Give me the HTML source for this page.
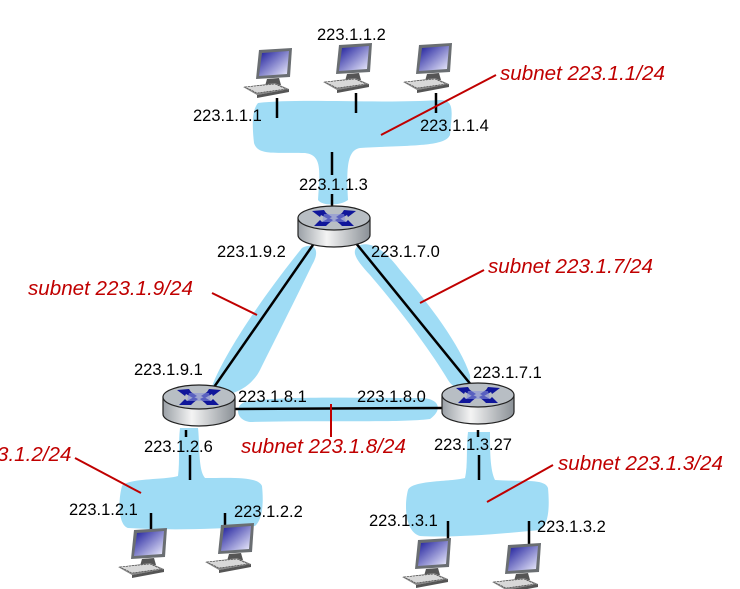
<!DOCTYPE html>
<html><head><meta charset="utf-8"><style>
html,body{margin:0;padding:0;background:#fff;}
svg{display:block;}
.t{font-family:"Liberation Sans",sans-serif;font-size:16.5px;fill:#000;}
.r{font-family:"Liberation Sans",sans-serif;font-size:20.6px;font-style:italic;fill:#c00000;}
</style></head><body>
<svg width="740" height="589" viewBox="0 0 740 589" xmlns="http://www.w3.org/2000/svg">
<defs>
<linearGradient id="scr" x1="0" y1="0" x2="1" y2="1"><stop offset="0" stop-color="#1a1a9a"/><stop offset="1" stop-color="#f0f0ff"/></linearGradient>
<linearGradient id="cyl" x1="0" y1="0" x2="1" y2="0"><stop offset="0" stop-color="#9aa0a6"/><stop offset="0.4" stop-color="#f4f4f4"/><stop offset="1" stop-color="#8a9096"/></linearGradient>
<g id="pc">
<polygon points="16,0 49,-2 47,27 13,29" fill="#6a6e72"/>
<polygon points="19,3 46,1 44,24 16,26" fill="url(#scr)"/>
<polygon points="24,29 36,28 38,35 22,36" fill="#555"/>
<polygon points="0,37 32,33 46,39 14,45" fill="#888"/>
<polygon points="2,37 32,34 43,39 14,43" fill="#d8d8d8" stroke="#444" stroke-width="0.6" stroke-dasharray="2,1"/>
<polygon points="14,45 46,39 46,42 14,48" fill="#555"/>
</g>
<g id="rt">
<path d="M-36,0 L-36,17 A36,12 0 0 0 36,17 L36,0 Z" fill="url(#cyl)" stroke="#222" stroke-width="1.2"/>
<ellipse cx="0" cy="0" rx="36" ry="12" fill="#b8bec4" stroke="#222" stroke-width="1.2"/>
<g fill="#10169a">
<polygon points="-22,-7 -10,-8 -8,-5 -2,-1 -6,1 -13,-3 -14,-1"/>
<polygon points="22,-7 10,-8 8,-5 2,-1 6,1 13,-3 14,-1"/>
<polygon points="-20,8 -8,8 -6,6 -1,2 -5,0 -12,4 -14,2"/>
<polygon points="20,8 8,8 6,6 1,2 5,0 12,4 14,2"/>
</g>
<polygon points="-10,-4 10,-4 12,4 -12,4" fill="#8a93d8" opacity="0.6"/>
</g>
</defs>
<g fill="#9fdcf5">
<path d="M258,103 C300,98 380,104 440,100 C455,100 452,112 450,135 C445,147 410,145 360,148 C348,150 346,165 348,200 C340,206 322,206 318,200 C320,170 322,155 305,153 C275,152 258,156 254,143 C252,125 252,110 258,103 Z"/>
<path d="M302,248 C312,242 322,248 312,265 C295,300 275,340 260,370 C250,390 225,400 210,392 C220,360 260,300 302,248 Z"/>
<path d="M358,246 C370,240 385,250 400,270 C430,305 460,345 470,375 C472,392 455,392 448,380 C430,350 400,310 370,275 C358,262 350,252 358,246 Z"/>
<path d="M245,402 C280,396 340,398 420,398 C440,398 443,410 430,419 C400,423 320,420 250,422 C235,420 235,405 245,402 Z"/>
<path d="M180,428 L198,428 C200,445 198,470 205,478 C230,478 258,476 262,486 C264,505 262,520 255,526 C210,530 160,530 128,528 C118,525 118,500 122,486 C128,478 165,480 178,476 C180,460 178,445 180,428 Z"/>
<path d="M468,432 L490,432 C490,450 490,470 495,480 C520,482 545,478 548,488 C550,510 548,525 540,530 C500,534 450,538 420,536 C405,532 404,505 408,490 C412,480 450,482 465,478 C468,465 466,448 468,432 Z"/>
</g>
<g stroke="#000" stroke-width="2.5" fill="none">
<line x1="277" y1="98" x2="277" y2="118"/>
<line x1="356" y1="93" x2="356" y2="113"/>
<line x1="436" y1="93" x2="436" y2="113"/>
<line x1="332" y1="152" x2="332" y2="175"/>
<line x1="332" y1="194" x2="332" y2="207"/>
<line x1="315" y1="242" x2="212" y2="390"/>
<line x1="355" y1="242" x2="472" y2="386"/>
<line x1="234" y1="409" x2="443" y2="408"/>
<line x1="186" y1="430" x2="186" y2="437"/>
<line x1="190" y1="455" x2="190" y2="480"/>
<line x1="151" y1="513" x2="151" y2="530"/>
<line x1="225" y1="513" x2="225" y2="530"/>
<line x1="478" y1="430" x2="478" y2="437"/>
<line x1="479" y1="455" x2="479" y2="480"/>
<line x1="448" y1="521" x2="448" y2="540"/>
<line x1="529" y1="521" x2="529" y2="545"/>
</g>
<use href="#pc" x="243" y="50"/>
<use href="#pc" x="323" y="45"/>
<use href="#pc" x="403" y="45"/>
<use href="#pc" x="118" y="530"/>
<use href="#pc" x="205" y="525"/>
<use href="#pc" x="402" y="540"/>
<use href="#pc" x="492" y="545"/>
<use href="#rt" x="334" y="218"/>
<use href="#rt" x="199" y="397"/>
<use href="#rt" x="478" y="395"/>
<g stroke="#c00000" stroke-width="2" fill="none">
<line x1="496" y1="75" x2="381" y2="135"/>
<line x1="212" y1="293" x2="257" y2="315"/>
<line x1="484" y1="270" x2="420" y2="303"/>
<line x1="331" y1="404" x2="331" y2="437"/>
<line x1="75" y1="458" x2="141" y2="493"/>
<line x1="553" y1="465" x2="487" y2="502"/>
</g>
<text class="t" x="317" y="40">223.1.1.2</text>
<text class="t" x="193" y="121">223.1.1.1</text>
<text class="t" x="420" y="131">223.1.1.4</text>
<text class="t" x="299" y="190">223.1.1.3</text>
<text class="t" x="217" y="257">223.1.9.2</text>
<text class="t" x="371" y="257">223.1.7.0</text>
<text class="t" x="134" y="375">223.1.9.1</text>
<text class="t" x="473" y="378">223.1.7.1</text>
<text class="t" x="238" y="402">223.1.8.1</text>
<text class="t" x="357" y="402">223.1.8.0</text>
<text class="t" x="144" y="452">223.1.2.6</text>
<text class="t" x="434" y="450">223.1.3.27</text>
<text class="t" x="69" y="515">223.1.2.1</text>
<text class="t" x="234" y="517">223.1.2.2</text>
<text class="t" x="369" y="526">223.1.3.1</text>
<text class="t" x="537" y="532">223.1.3.2</text>
<text class="r" x="500" y="80">subnet 223.1.1/24</text>
<text class="r" x="28" y="295">subnet 223.1.9/24</text>
<text class="r" x="488" y="273">subnet 223.1.7/24</text>
<text class="r" x="241" y="453">subnet 223.1.8/24</text>
<text class="r" x="-3" y="461">3.1.2/24</text>
<text class="r" x="558" y="470">subnet 223.1.3/24</text>
</svg>
</body></html>
